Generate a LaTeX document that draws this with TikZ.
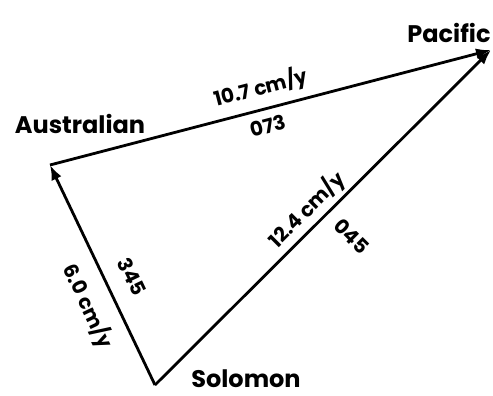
\documentclass[tikz,border=0pt]{standalone}
\usepackage{fontspec}
\setmainfont{Poppins}
\usetikzlibrary{arrows.meta}
\begin{document}
\begin{tikzpicture}[x=1pt,y=-1pt,
  vec/.style={line width=2.8pt,-{Latex[length=15pt,width=11pt]}},
  plate/.style={font=\fontsize{24}{25}\selectfont\bfseries,inner sep=0pt},
  lab/.style={font=\fontsize{20}{21}\selectfont\bfseries,inner sep=0pt}]
\useasboundingbox (0,0) rectangle (493,396);
\coordinate (A) at (50,165);
\coordinate (P) at (491,50);
\coordinate (S) at (155,385);
\draw[vec] (A) -- (P);
\draw[vec] (S) -- (P);
\draw[vec] (S) -- (A);
\node[plate] (na) at (80,124) {Australian};
\node[plate] (np) at (449,33) {Pacific};
\node[plate] (ns) at (246,379) {Solomon};
\node[lab,rotate=14.7] (l1) at (261,88) {10.7 cm/y};
\node[lab,rotate=14.7] (l2) at (268,126) {073};
\node[lab,rotate=45] (l3) at (307,210) {12.4 cm/y};
\node[lab,rotate=-45] (l4) at (352,236) {045};
\node[lab,rotate=-64.5] (l5) at (132,277) {345};
\node[lab,rotate=-64.5] (l6) at (88,306) {6.0 cm/y};
\end{tikzpicture}
\end{document}
